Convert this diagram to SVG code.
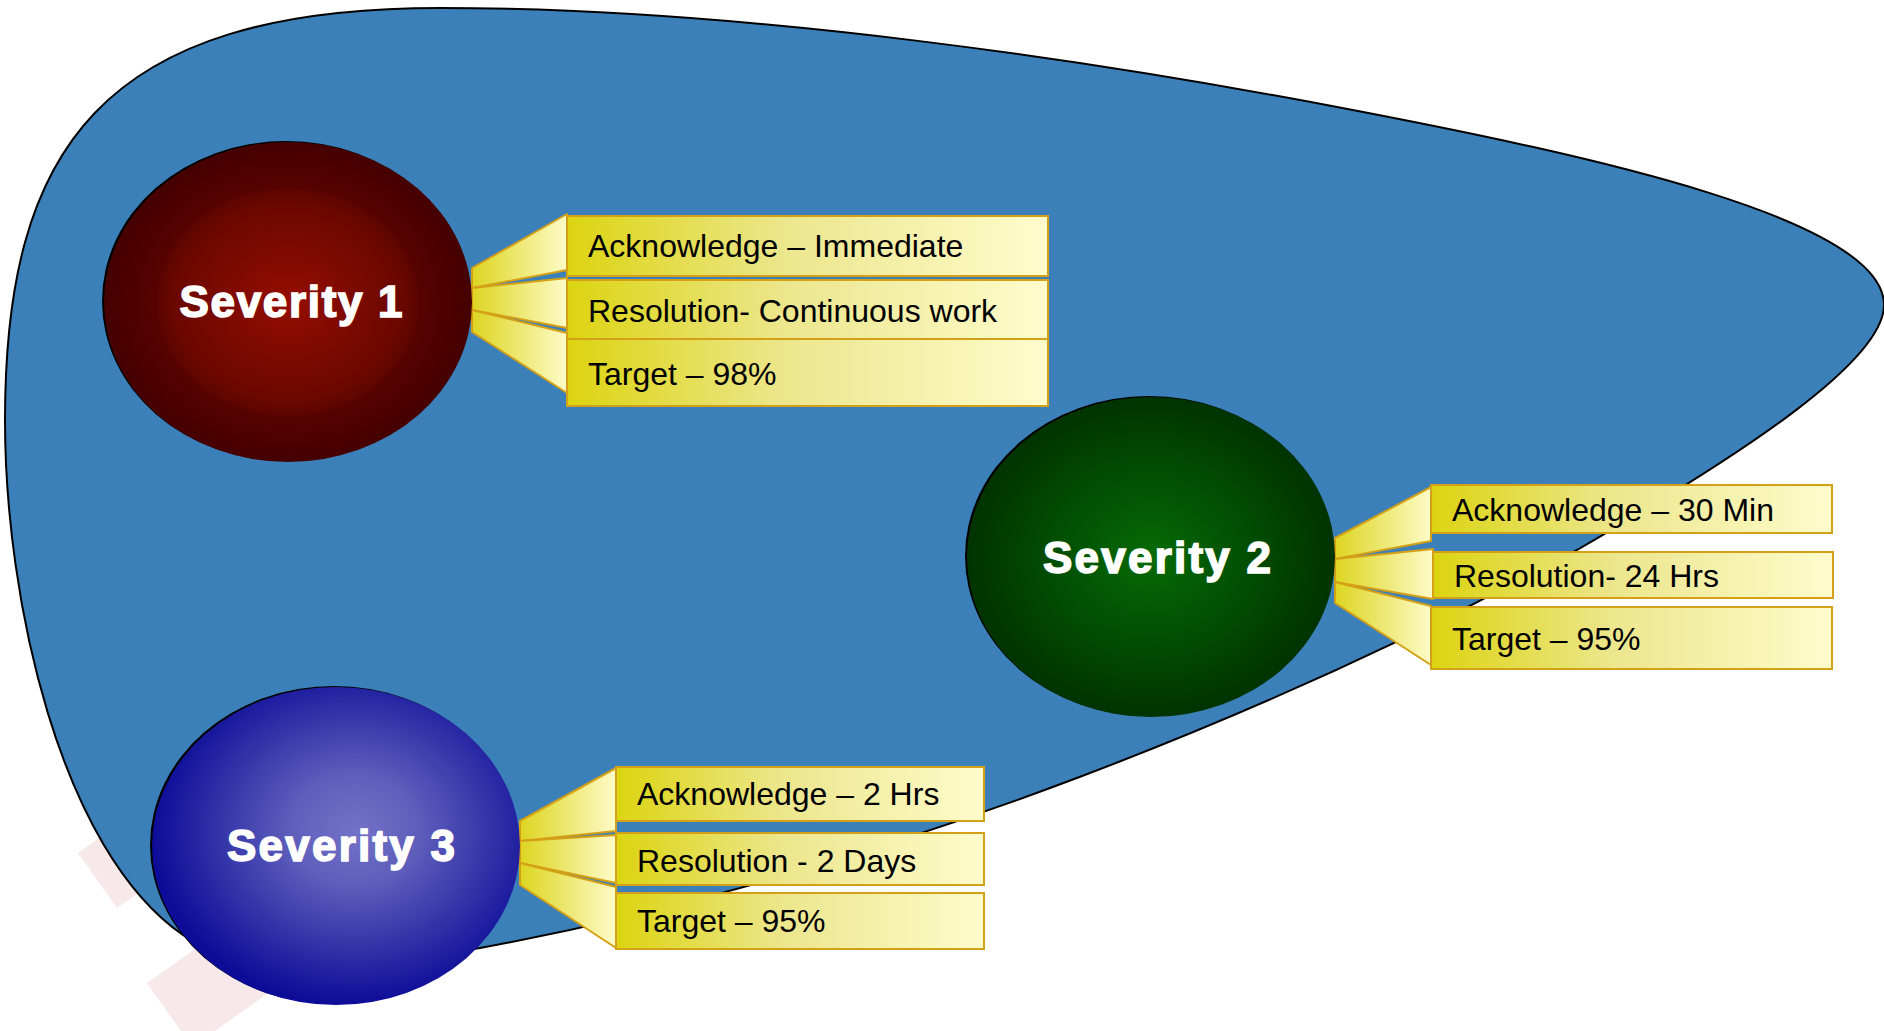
<svg xmlns="http://www.w3.org/2000/svg" width="1884" height="1031" viewBox="0 0 1884 1031">
<style>
.box{fill:url(#boxG);stroke:#d4a017;stroke-width:2}
.wedge{fill:url(#wedgeG);stroke:#d4a017;stroke-width:2;stroke-linejoin:round}
.lbl{font-family:"Liberation Sans",Arial,sans-serif;font-size:32px;fill:#000}
.sev{font-family:"Liberation Sans",Arial,sans-serif;font-size:44px;font-weight:bold;fill:#fff;stroke:#fff;stroke-width:1.6;text-anchor:middle}
.wm{fill:#f7e9e9}
</style>
<defs>
<linearGradient id="boxG" x1="0" y1="0" x2="1" y2="0">
<stop offset="0" stop-color="#dcd410"/>
<stop offset="0.45" stop-color="#ece68c"/>
<stop offset="1" stop-color="#fefccc"/>
</linearGradient>
<linearGradient id="wedgeG" x1="0" y1="0" x2="1" y2="0">
<stop offset="0" stop-color="#ddd520"/>
<stop offset="1" stop-color="#fefbc8"/>
</linearGradient>
<radialGradient id="redG" cx="0.5" cy="0.5" r="0.5">
<stop offset="0" stop-color="#950d00"/>
<stop offset="0.6" stop-color="#6c0800"/>
<stop offset="0.7" stop-color="#5e0500"/>
<stop offset="0.72" stop-color="#560200"/>
<stop offset="1" stop-color="#450000"/>
</radialGradient>
<radialGradient id="greenG" cx="0.5" cy="0.5" r="0.5">
<stop offset="0" stop-color="#066b06"/>
<stop offset="0.6" stop-color="#024a02"/>
<stop offset="1" stop-color="#003300"/>
</radialGradient>
<radialGradient id="blueG" cx="0.55" cy="0.45" r="0.55">
<stop offset="0" stop-color="#7272c8"/>
<stop offset="0.3" stop-color="#6060bc"/>
<stop offset="1" stop-color="#0c0c98"/>
</radialGradient>
</defs>

<g id="watermark">
<polygon class="wm" points="78,853 117,908 158,879 119,824"/>
<polygon class="wm" points="147,983 192,1047 280,985 235,921"/>
</g>

<g id="background">
<path d="M440,8 C750,8 1100,62 1337,107 C1600,157 1884,220 1884,305 C1884,360 1750,450 1577,550 C1300,700 900,870 480,948 C350,968 230,965 183,935 C60,850 5,600 5,420 C5,150 100,8 440,8 Z" fill="#3b80b9" stroke="#000" stroke-width="2"/>
</g>

<g id="connectors">
<polygon class="wedge" points="472,268 567,214 567,270 472,288"/>
<polygon class="wedge" points="472,288 567,278 567,328 472,310"/>
<polygon class="wedge" points="472,310 567,333 567,393 472,332"/>
<polygon class="wedge" points="1335,538 1431,487 1431,541 1335,559"/>
<polygon class="wedge" points="1335,559 1433,549 1433,599 1335,582"/>
<polygon class="wedge" points="1335,582 1431,606 1431,665 1335,603"/>
<polygon class="wedge" points="520,821 616,768 616,831 520,841"/>
<polygon class="wedge" points="520,841 616,835 616,883 520,863"/>
<polygon class="wedge" points="520,863 616,887 616,948 520,885"/>
</g>

<g id="severity1">
<ellipse cx="286" cy="301" rx="184" ry="160" fill="#000"/>
<ellipse cx="288" cy="302" rx="184" ry="160" fill="url(#redG)"/>
<text class="sev" x="291" y="317" textLength="223" lengthAdjust="spacing">Severity 1</text>
</g>
<g id="sev1-items">
<rect class="box" x="567" y="216" width="481" height="60"/>
<rect class="box" x="567" y="280" width="481" height="59"/>
<rect class="box" x="567" y="339" width="481" height="67"/>
<text class="lbl" x="588" y="257">Acknowledge – Immediate</text>
<text class="lbl" x="588" y="322">Resolution- Continuous work</text>
<text class="lbl" x="588" y="385">Target – 98%</text>
</g>

<g id="severity2">
<ellipse cx="1149" cy="556" rx="184" ry="160" fill="#000"/>
<ellipse cx="1151" cy="557" rx="184" ry="160" fill="url(#greenG)"/>
<text class="sev" x="1157" y="573" textLength="228" lengthAdjust="spacing">Severity 2</text>
</g>
<g id="sev2-items">
<rect class="box" x="1431" y="485" width="401" height="48"/>
<rect class="box" x="1433" y="552" width="400" height="46"/>
<rect class="box" x="1431" y="607" width="401" height="62"/>
<text class="lbl" x="1452" y="521">Acknowledge – 30 Min</text>
<text class="lbl" x="1454" y="587">Resolution- 24 Hrs</text>
<text class="lbl" x="1452" y="650">Target – 95%</text>
</g>

<g id="severity3">
<ellipse cx="334" cy="845" rx="184" ry="159" fill="#000"/>
<ellipse cx="336" cy="846" rx="184" ry="159" fill="url(#blueG)"/>
<text class="sev" x="341" y="861" textLength="228" lengthAdjust="spacing">Severity 3</text>
</g>
<g id="sev3-items">
<rect class="box" x="616" y="767" width="368" height="54"/>
<rect class="box" x="616" y="833" width="368" height="52"/>
<rect class="box" x="616" y="893" width="368" height="56"/>
<text class="lbl" x="637" y="805">Acknowledge – 2 Hrs</text>
<text class="lbl" x="637" y="872">Resolution - 2 Days</text>
<text class="lbl" x="637" y="932">Target – 95%</text>
</g>
</svg>
